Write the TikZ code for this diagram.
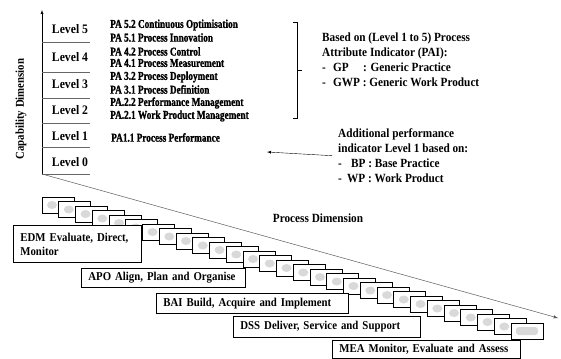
\documentclass[tikz,border=0pt]{standalone}
\usepackage{fontspec}
\setmainfont{Liberation Serif}[FakeStretch=0.9]
\newfontfamily\pafont{Liberation Serif Bold}[FakeStretch=0.77,FakeBold=1.2]
\usepackage{tikz}

\begin{document}
\begin{tikzpicture}[x=1pt,y=-1pt,
  every node/.style={font=\bfseries\fontsize{12.5}{15}\selectfont,inner sep=0pt},
  level/.style={font=\bfseries\fontsize{13}{15}\selectfont},
  pa/.style={anchor=west,font=\pafont\fontsize{12}{14}\selectfont},
  info/.style={anchor=north west,align=left},
  procbox/.style={draw,fill=white,line width=0.6pt},
  dombox/.style={draw,fill=white,line width=0.8pt,anchor=north west,align=left,inner xsep=7pt,
    font=\bfseries\fontsize{12}{14}\selectfont}]
\useasboundingbox (0,0) rectangle (561,358);
% axes
\coordinate (origin) at (42,174);
\coordinate (captip) at (42,10);
\coordinate (proctip) at (558,318);
\draw[-latex] (origin) -- (captip);
\draw[-latex,gray!70!black,line width=0.5pt] (origin) -- (proctip);
\node[rotate=90,font=\bfseries\fontsize{12}{14}\selectfont] (capdim) at (21,109) {Capability Dimension};
\node (procdim) at (318,218) {Process Dimension};
% levels
\foreach \y in {42,72,98,123,147,174}
  \draw[gray!80!black] (42,\y) -- (90,\y);
\node[level] (l5) at (70,29) {Level 5};
\node[level] (l4) at (70,57) {Level 4};
\node[level] (l3) at (70,84) {Level 3};
\node[level] (l2) at (70,110) {Level 2};
\node[level] (l1) at (70,136) {Level 1};
\node[level] (l0) at (70,162) {Level 0};
% process attributes
\node[pa] (pa52) at (110,25) {PA 5.2 Continuous Optimisation};
\node[pa] (pa51) at (110,37.5) {PA 5.1 Process Innovation};
\node[pa] (pa42) at (110,51.5) {PA 4.2 Process Control};
\node[pa] (pa41) at (110,63) {PA 4.1 Process Measurement};
\node[pa] (pa32) at (110,77) {PA 3.2 Process Deployment};
\node[pa] (pa31) at (110,89.5) {PA 3.1 Process Definition};
\node[pa] (pa22) at (110,103) {PA.2.2 Performance Management};
\node[pa] (pa21) at (110,116) {PA.2.1 Work Product Management};
\node[pa] (pa11) at (111,137.5) {PA1.1 Process Performance};
% bracket
\draw (293,22) -- (297,22) -- (297,118) -- (293,118);
\draw (297,70) -- (302,70);
\node[info] (pai) at (322,33) {Based on (Level 1 to 5) Process\\
  Attribute Indicator (PAI):\\
  \makebox[11pt][l]{-}\makebox[30pt][l]{GP}: Generic Practice\\
  \makebox[11pt][l]{-}GWP : Generic Work Product};
\node[info] (addl) at (338,128.5) {Additional performance\\
  indicator Level 1 based on:\\
  \makebox[13pt][l]{-}BP : Base Practice\\
  \makebox[9pt][l]{-}WP : Work Product};
\coordinate (pa11tip) at (267,152);
\draw[-latex] ([xshift=-6pt]addl.west) -- (pa11tip);
% processes
\foreach \i in {0,...,28}{
  \draw[procbox] ({42+16.75*\i},{197+4.5*\i}) rectangle +(32,16);
  \fill[gray!30] ({52+16.75*\i},{205+4.5*\i}) ellipse (5 and 4);
}
\fill[gray!30,rounded corners=3pt] (516,327) rectangle (538,335);
\node[dombox,minimum width=126pt,minimum height=37pt,text width=114pt] (edm) at (13,225) {EDM Evaluate, Direct,\\Monitor};
\node[dombox,minimum width=164pt,minimum height=19pt,text width=150pt] (apo) at (81,268) {APO Align, Plan and Organise};
\node[dombox,minimum width=192pt,minimum height=20pt,text width=178pt] (bai) at (156,293) {BAI Build, Acquire and Implement};
\node[dombox,minimum width=187pt,minimum height=21pt,text width=173pt] (dss) at (233,316) {DSS Deliver, Service and Support};
\node[dombox,minimum width=188pt,minimum height=18pt,text width=174pt] (mea) at (332,339.5) {MEA Monitor, Evaluate and Assess};
\end{tikzpicture}
\end{document}
